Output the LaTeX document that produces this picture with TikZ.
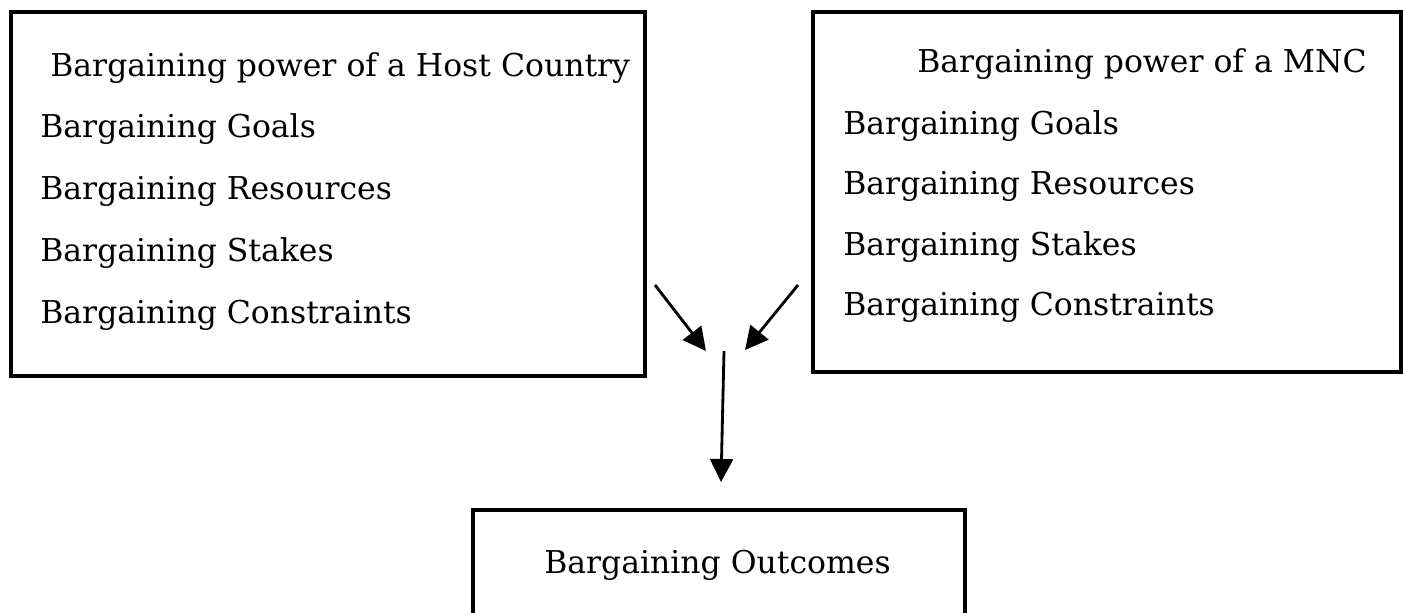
\documentclass[tikz,border=0pt]{standalone}
\usepackage{fontspec}
\setmainfont{DejaVu Serif}
\usepackage{tikz}
\usetikzlibrary{arrows.meta}

\begin{document}
\begin{tikzpicture}
\tikzstyle{box}=[draw, line width=1.9pt, inner sep=0pt]
\tikzstyle{txt}=[anchor=base west, inner sep=0pt, font=\fontsize{17.9}{22}\selectfont]
\tikzstyle{arr}=[line width=1.6pt, -{Triangle[length=0.46cm, width=0.46cm]}]
\useasboundingbox (0,0) rectangle (28.06,12.24);
% the two boxes on top
\node[box, minimum width=12.68cm, minimum height=7.28cm] (host) at (6.56,8.36) {};
\node[box, minimum width=11.76cm, minimum height=7.2cm] (mnc) at (22.14,8.4) {};
\node[txt] (hostT) at (1.0,10.70) {Bargaining power of a Host Country};
\node[txt] (mncT) at (18.34,10.78) {Bargaining power of a MNC};
\foreach \t [count=\k] in {Goals,Resources,Stakes,Constraints}{
\node[txt] (host\k) at (0.8,10.72-1.24*\k) {Bargaining \t};
\node[txt] (mnc\k) at (16.86,10.76-1.21*\k) {Bargaining \t};
}
% outcome box
\node[box, minimum width=9.84cm, minimum height=2.24cm] (out) at (14.38,0.92) {};
\node[txt, anchor=base] (outT) at (14.35,0.78) {Bargaining Outcomes};
% arrows
\coordinate (hostA) at (13.1,6.54);
\coordinate (mncA) at (15.96,6.54);
\coordinate (hostB) at (14.12,5.22);
\coordinate (mncB) at (14.9,5.24);
\coordinate (midA) at (14.48,5.22);
\coordinate (midB) at (14.42,2.6);
\draw[arr] (hostA) -- (hostB);
\draw[arr] (mncA) -- (mncB);
\draw[arr] (midA) -- (midB);
\end{tikzpicture}
\end{document}
